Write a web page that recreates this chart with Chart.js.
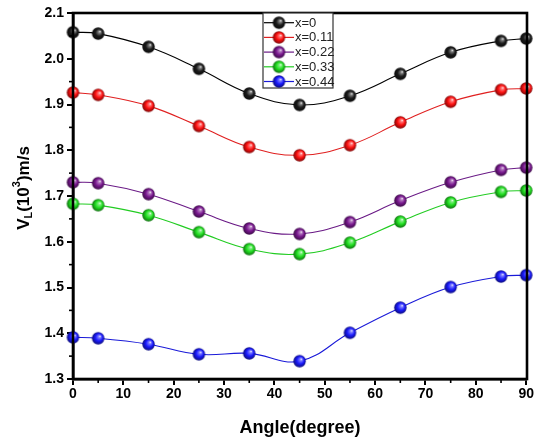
<!DOCTYPE html>
<html><head><meta charset="utf-8">
<script src="https://cdn.jsdelivr.net/npm/chart.js@4/dist/chart.umd.min.js"></script>
<style>html,body{margin:0;padding:0;background:#fff}</style>
</head><body>
<canvas id="c" width="535" height="444"></canvas>
<script>
const angles = [0, 5, 15, 25, 35, 45, 55, 65, 75, 85, 90];
const seriesNames = ['x=0', 'x=0.11', 'x=0.22', 'x=0.33', 'x=0.44'];
const vX0    = [2.058, 2.055, 2.026, 1.978, 1.924, 1.899, 1.919, 1.967, 2.014, 2.039, 2.044];
const vX011  = [1.926, 1.921, 1.897, 1.853, 1.807, 1.789, 1.811, 1.861, 1.906, 1.932, 1.935];
const vX022  = [1.730, 1.728, 1.704, 1.666, 1.629, 1.617, 1.643, 1.690, 1.730, 1.757, 1.762];
const vX033  = [1.683, 1.680, 1.658, 1.621, 1.584, 1.573, 1.598, 1.644, 1.686, 1.709, 1.712];
const vX044  = [1.391, 1.389, 1.376, 1.354, 1.356, 1.339, 1.401, 1.456, 1.501, 1.524, 1.527];
const xTicks = [0, 10, 20, 30, 40, 50, 60, 70, 80, 90];
const yTicks = [1.3, 1.4, 1.5, 1.6, 1.7, 1.8, 1.9, 2.0, 2.1];

const lineColors = ['#000000', '#e02020', '#6a1a86', '#22cc22', '#1a1ad8'];
const ballColors = ['#1a1a1a', '#ff1010', '#7a1890', '#20e020', '#1a1aff'];
const allValues = [vX0, vX011, vX022, vX033, vX044];

function shade(hex, f) {
  const n = parseInt(hex.slice(1), 16);
  let r = (n >> 16) & 255, g = (n >> 8) & 255, b = n & 255;
  if (f >= 0) { r += (255 - r) * f; g += (255 - g) * f; b += (255 - b) * f; }
  else { r *= 1 + f; g *= 1 + f; b *= 1 + f; }
  return `rgb(${r|0},${g|0},${b|0})`;
}
function ball(color, r) {
  const c = document.createElement('canvas');
  const s = Math.ceil(r * 2 + 2);
  c.width = s; c.height = s;
  const x = c.getContext('2d');
  const cx = s / 2, cy = s / 2;
  const g = x.createRadialGradient(cx + r * 0.3, cy - r * 0.35, 0, cx, cy, r * 1.05);
  g.addColorStop(0, '#ffffff');
  g.addColorStop(0.18, shade(color, 0.45));
  g.addColorStop(0.55, color);
  g.addColorStop(1, shade(color, -0.55));
  x.fillStyle = g;
  x.beginPath(); x.arc(cx, cy, r, 0, Math.PI * 2); x.fill();
  return c;
}
const balls = ballColors.map(c => ball(c, 6.2));

const datasets = allValues.map((vals, i) => ({
  label: seriesNames[i],
  data: angles.map((a, j) => ({ x: a, y: vals[j] })),
  borderColor: lineColors[i],
  borderWidth: 1.1,
  pointStyle: balls[i],
  pointRadius: 6,
  tension: 0.4,
  clip: false
}));

const L = 73, R = 527, T = 13, B = 379;

const decor = {
  id: 'decor',
  afterDraw(chart) {
    const ctx = chart.ctx;
    const xs = chart.scales.x, ys = chart.scales.y;
    ctx.save();
    ctx.strokeStyle = '#000';
    // minor ticks
    ctx.lineWidth = 1.6;
    for (let v = 5; v < 90; v += 10) {
      const px = xs.getPixelForValue(v);
      ctx.beginPath(); ctx.moveTo(px, B); ctx.lineTo(px, B + 4); ctx.stroke();
    }
    for (let k = 0; k < yTicks.length - 1; k++) {
      const v = (yTicks[k] + yTicks[k + 1]) / 2;
      const py = ys.getPixelForValue(v);
      ctx.beginPath(); ctx.moveTo(L, py); ctx.lineTo(L - 4, py); ctx.stroke();
    }
    // frame
    ctx.lineWidth = 2.6;
    ctx.strokeRect(L, T, R - L, B - T);
    // legend
    const lx0 = 263, ly0 = 13, lx1 = 333, ly1 = 88;
    ctx.fillStyle = '#fff';
    ctx.fillRect(lx0, ly0, lx1 - lx0, ly1 - ly0);
    ctx.lineWidth = 1.2;
    ctx.strokeStyle = '#333';
    ctx.strokeRect(lx0, ly0, lx1 - lx0, ly1 - ly0);
    ctx.font = '13px "Liberation Sans", Arial, sans-serif';
    ctx.textBaseline = 'middle';
    ctx.textAlign = 'left';
    seriesNames.forEach((n, i) => {
      const y = 22.7 + i * 14.7;
      ctx.strokeStyle = lineColors[i];
      ctx.lineWidth = 1.2;
      ctx.beginPath(); ctx.moveTo(lx0 + 1, y); ctx.lineTo(294, y); ctx.stroke();
      ctx.drawImage(balls[i], 279 - balls[i].width / 2, y - balls[i].height / 2);
      ctx.fillStyle = '#222';
      ctx.fillText(n, 295, y + 0.5);
    });
    // x title
    ctx.fillStyle = '#000';
    ctx.textAlign = 'center';
    ctx.textBaseline = 'middle';
    ctx.font = 'bold 18px "Liberation Sans", Arial, sans-serif';
    ctx.fillText('Angle(degree)', (L + R) / 2, 428);
    // y title with sub/superscript
    ctx.translate(24, 188);
    ctx.rotate(-Math.PI / 2);
    const big = 'bold 17px "Liberation Sans", Arial, sans-serif';
    const small = 'bold 11px "Liberation Sans", Arial, sans-serif';
    const parts = [
      ['V', big, 0], ['L', small, 5], ['(10', big, 0], ['3', small, -7], [')m/s', big, 0]
    ];
    let w = 0;
    parts.forEach(p => { ctx.font = p[1]; w += ctx.measureText(p[0]).width; });
    let x = -w / 2;
    ctx.textAlign = 'left';
    ctx.textBaseline = 'middle';
    parts.forEach(p => {
      ctx.font = p[1];
      ctx.fillText(p[0], x, p[2]);
      x += ctx.measureText(p[0]).width;
    });
    ctx.restore();
  }
};

new Chart(document.getElementById('c'), {
  type: 'line',
  data: { datasets },
  options: {
    responsive: false,
    animation: false,
    layout: { padding: { top: T, right: 535 - R, left: 0, bottom: 0 } },
    plugins: { legend: { display: false }, tooltip: { enabled: false } },
    scales: {
      x: {
        type: 'linear', min: 0, max: 90,
        afterBuildTicks: s => { s.ticks = xTicks.map(v => ({ value: v })); },
        ticks: { color: '#000', font: { family: '"Liberation Sans", Arial, sans-serif', size: 14, weight: 'bold' }, padding: 1, maxRotation: 0 },
        grid: { display: true, drawOnChartArea: false, drawTicks: true, tickLength: 6, color: '#000', lineWidth: 2 },
        border: { display: true, color: '#000', width: 2.6 },
        afterFit: s => { s.height = 444 - B; }
      },
      y: {
        type: 'linear', min: 1.3, max: 2.1,
        afterBuildTicks: s => { s.ticks = yTicks.map(v => ({ value: v })); },
        ticks: { color: '#000', font: { family: '"Liberation Sans", Arial, sans-serif', size: 14, weight: 'bold' }, padding: 3, callback: v => v.toFixed(1) },
        grid: { display: true, drawOnChartArea: false, drawTicks: true, tickLength: 6, color: '#000', lineWidth: 2 },
        border: { display: true, color: '#000', width: 2.6 },
        afterFit: s => { s.width = L; }
      }
    }
  },
  plugins: [decor]
});
</script>
</body></html>
